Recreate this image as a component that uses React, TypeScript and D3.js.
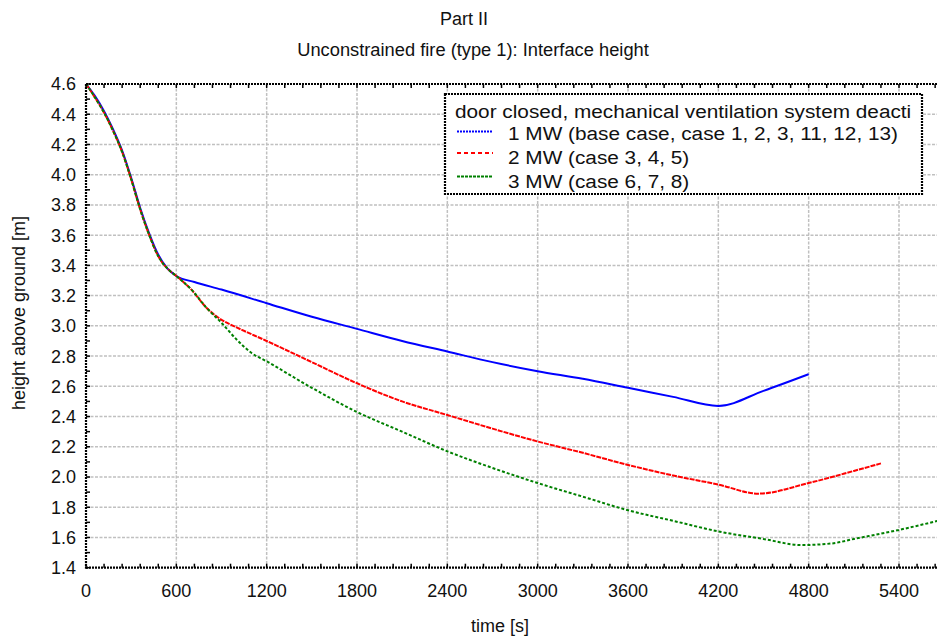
import React from "react";
import * as d3 from "d3";

// ---- Data ----
const blueT = [0, 60, 120, 180, 240, 300, 360, 420, 480, 540, 600, 720, 900, 1200, 1500, 1800, 2100, 2400, 2700, 3000, 3300, 3600, 3900, 4200, 4500, 4800];
const blueH = [4.6, 4.52, 4.42, 4.3, 4.16, 3.98, 3.78, 3.61, 3.47, 3.38, 3.33, 3.29, 3.24, 3.15, 3.06, 2.98, 2.9, 2.83, 2.76, 2.7, 2.65, 2.59, 2.53, 2.47, 2.57, 2.68];

const redT = [0, 60, 120, 180, 240, 300, 360, 420, 480, 540, 600, 700, 800, 900, 1000, 1200, 1500, 1800, 2100, 2400, 2700, 3000, 3300, 3600, 3900, 4200, 4466, 4800, 5100, 5280];
const redH = [4.6, 4.51, 4.41, 4.29, 4.15, 3.97, 3.77, 3.6, 3.46, 3.38, 3.33, 3.24, 3.12, 3.04, 2.99, 2.9, 2.76, 2.62, 2.5, 2.41, 2.32, 2.235, 2.16, 2.08, 2.01, 1.95, 1.89, 1.96, 2.04, 2.09];

const greenT = [0, 60, 120, 180, 240, 300, 360, 420, 480, 540, 600, 700, 800, 900, 1000, 1100, 1200, 1500, 1800, 2100, 2400, 2700, 3000, 3300, 3600, 3900, 4200, 4500, 4750, 4950, 5100, 5400, 5700];
const greenH = [4.6, 4.51, 4.41, 4.29, 4.15, 3.97, 3.77, 3.6, 3.46, 3.38, 3.33, 3.24, 3.12, 3.02, 2.91, 2.82, 2.765, 2.59, 2.43, 2.3, 2.17, 2.06, 1.96, 1.87, 1.78, 1.71, 1.64, 1.59, 1.55, 1.56, 1.59, 1.65, 1.72];

const xTicks = [0, 600, 1200, 1800, 2400, 3000, 3600, 4200, 4800, 5400];
const yTicks = [1.4, 1.6, 1.8, 2.0, 2.2, 2.4, 2.6, 2.8, 3.0, 3.2, 3.4, 3.6, 3.8, 4.0, 4.2, 4.4, 4.6];

// legend title as visible in the reference (cut at the box edge there)
const legendTitle = "door closed, mechanical ventilation system deacti";
const seriesNames = [
  "1 MW (base case, case 1, 2, 3, 11, 12, 13)",
  "2 MW (case 3, 4, 5)",
  "3 MW (case 6, 7, 8)",
];
const seriesColors = ["#0000ff", "#ff0000", "#008000"];

const W = 937;
const H = 638;
const FONT = "'Liberation Sans', Arial, Helvetica, sans-serif";

export default function App() {
  const x = d3.scaleLinear().domain([0, 5700]).range([86, 86 + (5700 * 813) / 5400]);
  const y = d3.scaleLinear().domain([1.4, 4.6]).range([567.7, 84]);
  const left = x(0);
  const right = x(5700);
  const top = y(4.6);
  const bottom = y(1.4);

  const mk = (ts: number[], hs: number[]) => ts.map((t, i) => [t, hs[i]] as [number, number]);
  const series = [mk(blueT, blueH), mk(redT, redH), mk(greenT, greenH)];
  const line = d3
    .line<[number, number]>()
    .x((d) => x(d[0]))
    .y((d) => y(d[1]))
    .curve(d3.curveMonotoneX);

  const plotDash = [null, "5,1", "3,2"];
  const legDash = ["2,1", "4,3", "3,1"];

  const minorX = d3.range(0, 5701, 120);
  const minorY = d3.range(1.4, 4.6001, 0.1);

  const legX = 445;
  const legY = 94;
  const legW = 477;
  const legH = 100;
  const rowLineY = [131.5, 153, 176.5];
  const rowTextY = [140, 164, 188];
  const legScale = 1.094;

  return (
    <svg
      width={W}
      height={H}
      style={{ position: "absolute", left: 0, top: 0, background: "#fff" }}
      fontFamily={FONT}
    >
      <defs>
        <clipPath id="plotClip">
          <rect x={left} y={top - 2} width={right - left} height={bottom - top + 4} />
        </clipPath>
      </defs>

      {/* Titles */}
      <text x={464} y={25} fontSize={18} textAnchor="middle" fill="#111">
        Part II
      </text>
      <text x={473} y={56} fontSize={18.3} textAnchor="middle" fill="#111">
        Unconstrained fire (type 1): Interface height
      </text>

      {/* Grid */}
      <g stroke="#c0c0c0" strokeWidth={1.5} strokeDasharray="3,1.5">
        {xTicks
          .filter((t) => t > 0)
          .map((t) => (
            <line key={"gx" + t} x1={x(t)} x2={x(t)} y1={top} y2={bottom} />
          ))}
        {yTicks
          .filter((v) => v > 1.45 && v < 4.55)
          .map((v) => (
            <line key={"gy" + v} x1={left} x2={right} y1={y(v)} y2={y(v)} />
          ))}
      </g>

      {/* Series */}
      <g clipPath="url(#plotClip)" fill="none">
        {series.map((s, i) => (
          <path
            key={"s" + i}
            d={line(s) || ""}
            stroke={seriesColors[i]}
            strokeWidth={2}
            strokeDasharray={plotDash[i] || undefined}
          />
        ))}
      </g>

      {/* Axes frame */}
      <g stroke="#000" strokeWidth={2.2} strokeDasharray="2,1">
        <line x1={left} x2={left} y1={top} y2={bottom + 1} />
        <line x1={left} x2={right} y1={bottom} y2={bottom} />
        <line x1={left} x2={right} y1={top} y2={top} />
      </g>
      {/* Minor ticks */}
      <g stroke="#000" strokeWidth={1.5}>
        {minorX.map((t) => (
          <line key={"mxb" + t} x1={x(t)} x2={x(t)} y1={bottom} y2={bottom - 4} />
        ))}
        {minorX.map((t) => (
          <line key={"mxt" + t} x1={x(t)} x2={x(t)} y1={top} y2={top + 4} />
        ))}
        {minorY.map((v) => (
          <line key={"my" + v.toFixed(1)} x1={left} x2={left + 4} y1={y(v)} y2={y(v)} />
        ))}
      </g>

      {/* Tick labels */}
      <g fontSize={18} fill="#111">
        {xTicks.map((t) => (
          <text key={"xl" + t} x={x(t)} y={597} textAnchor="middle">
            {t}
          </text>
        ))}
        {yTicks.map((v) => (
          <text key={"yl" + v} x={76} y={y(v)} dy="0.36em" textAnchor="end">
            {v.toFixed(1)}
          </text>
        ))}
      </g>

      {/* Axis titles */}
      <text x={500} y={632} fontSize={18} textAnchor="middle" fill="#111">
        time [s]
      </text>
      <text
        transform={`translate(25,313) rotate(-90)`}
        fontSize={18}
        textAnchor="middle"
        fill="#111"
      >
        height above ground [m]
      </text>

      {/* Legend */}
      <rect x={legX} y={legY} width={legW} height={legH} fill="#fff" stroke="#000" strokeWidth={2.2} strokeDasharray="2,1" />
      <text transform={`translate(455,118) scale(${legScale},1)`} fontSize={19} fill="#111">
        {legendTitle}
      </text>
      {seriesNames.map((n, i) => (
        <g key={"lg" + i}>
          <line
            x1={457}
            x2={493}
            y1={rowLineY[i]}
            y2={rowLineY[i]}
            stroke={seriesColors[i]}
            strokeWidth={2}
            strokeDasharray={legDash[i]}
          />
          <text transform={`translate(508,${rowTextY[i]}) scale(${legScale},1)`} fontSize={19} fill="#111">
            {n}
          </text>
        </g>
      ))}
    </svg>
  );
}
